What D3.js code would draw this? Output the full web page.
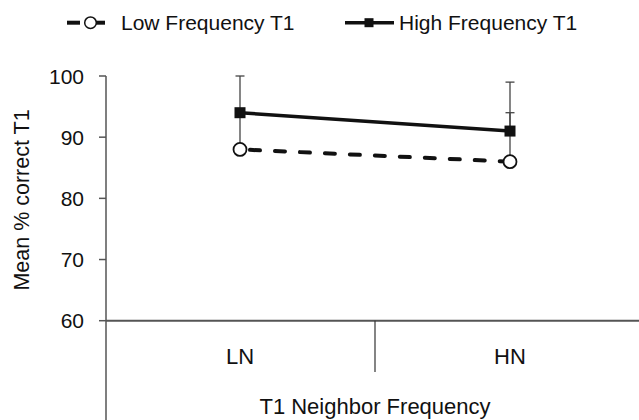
<!DOCTYPE html>
<html>
<head>
<meta charset="utf-8">
<script src="https://cdn.jsdelivr.net/npm/d3@7"></script>
<style>
  body { margin: 0; background: #fff; }
  svg text { font-family: "Liberation Sans", Arial, sans-serif; fill: #111; }
</style>
</head>
<body>
<div id="chart"></div>
<script>
var width  = 639;
var height = 420;

// data
var categories = ["LN", "HN"];
var lowFreq    = [88, 86];
var lowErr     = [6, 8];
var highFreq   = [94, 91];
var highErr    = [6, 8];
var yTicks     = [60, 70, 80, 90, 100];

const axisX   = 106;
const axisY   = 320.7;
const topY    = 76;
const axisCol = "#555";

var svg = d3.select("#chart").append("svg")
    .attr("width", width)
    .attr("height", height);

var x = d3.scaleBand()
    .domain(categories)
    .range([axisX - 1, axisX - 1 + 540])
    .padding(0);

var y = d3.scaleLinear()
    .domain([60, 100])
    .range([axisY, topY]);

function cx(c) { return x(c) + x.bandwidth() / 2; }

// ----------- axes -----------
svg.append("line")
    .attr("x1", axisX).attr("x2", axisX)
    .attr("y1", topY).attr("y2", height)
    .attr("stroke", axisCol).attr("stroke-width", 1.5);

svg.append("line")
    .attr("x1", axisX).attr("x2", width)
    .attr("y1", axisY).attr("y2", axisY)
    .attr("stroke", axisCol).attr("stroke-width", 2);

svg.selectAll(".ytick")
    .data(yTicks)
    .enter()
  .append("line")
    .attr("x1", axisX - 7).attr("x2", axisX)
    .attr("y1", function(d){ return y(d); })
    .attr("y2", function(d){ return y(d); })
    .attr("stroke", axisCol).attr("stroke-width", 1.5);

svg.selectAll(".ylabel")
    .data(yTicks)
    .enter()
  .append("text")
    .attr("x", 84)
    .attr("y", function(d){ return y(d); })
    .attr("dy", "0.36em")
    .attr("text-anchor", "end")
    .style("font-size", "21px")
    .text(function(d){ return d; });

// divider between categories
svg.append("line")
    .attr("x1", x("HN")).attr("x2", x("HN"))
    .attr("y1", axisY).attr("y2", 372)
    .attr("stroke", "#333").attr("stroke-width", 1.2);

svg.selectAll(".xlabel")
    .data(categories)
    .enter()
  .append("text")
    .attr("x", function(d){ return cx(d); })
    .attr("y", 364)
    .attr("text-anchor", "middle")
    .style("font-size", "22px")
    .text(function(d){ return d; });

svg.append("text")
    .attr("x", x("HN"))
    .attr("y", 414)
    .attr("text-anchor", "middle")
    .style("font-size", "22px")
    .text("T1 Neighbor Frequency");

svg.append("text")
    .attr("transform", "translate(29,200) rotate(-90)")
    .attr("text-anchor", "middle")
    .style("font-size", "21.5px")
    .text("Mean % correct T1");

// ----------- error bars (plus only) -----------
function errorBars(vals, errs) {
  var g = svg.append("g");
  categories.forEach(function(c, i){
    var xc = cx(c);
    g.append("line")
        .attr("x1", xc).attr("x2", xc)
        .attr("y1", y(vals[i])).attr("y2", y(vals[i] + errs[i]))
        .attr("stroke", "#444").attr("stroke-width", 1.3);
    g.append("line")
        .attr("x1", xc - 4.5).attr("x2", xc + 4.5)
        .attr("y1", y(vals[i] + errs[i])).attr("y2", y(vals[i] + errs[i]))
        .attr("stroke", "#444").attr("stroke-width", 1.3);
  });
}
errorBars(lowFreq, lowErr);
errorBars(highFreq, highErr);

// ----------- lines -----------
var line = d3.line()
    .x(function(d, i){ return cx(categories[i]); })
    .y(function(d){ return y(d); });

svg.append("path")
    .datum(lowFreq)
    .attr("d", line)
    .attr("fill", "none")
    .attr("stroke", "#111")
    .attr("stroke-width", 4)
    .attr("stroke-linecap", "round")
    .attr("stroke-dasharray", "10 15")
    .attr("stroke-dashoffset", -10);

svg.append("path")
    .datum(highFreq)
    .attr("d", line)
    .attr("fill", "none")
    .attr("stroke", "#111")
    .attr("stroke-width", 3.5);

// ----------- markers -----------
svg.selectAll(".lowPt")
    .data(lowFreq)
    .enter()
  .append("circle")
    .attr("cx", function(d, i){ return cx(categories[i]); })
    .attr("cy", function(d){ return y(d); })
    .attr("r", 6.5)
    .attr("fill", "#fff")
    .attr("stroke", "#111")
    .attr("stroke-width", 1.8);

svg.selectAll(".highPt")
    .data(highFreq)
    .enter()
  .append("rect")
    .attr("x", function(d, i){ return cx(categories[i]) - 5.5; })
    .attr("y", function(d){ return y(d) - 5.5; })
    .attr("width", 11).attr("height", 11)
    .attr("fill", "#111");

// ----------- legend -----------
const legY = 22.7;
var legend = svg.append("g");

legend.append("line")
    .attr("x1", 67).attr("x2", 80).attr("y1", legY).attr("y2", legY)
    .attr("stroke", "#111").attr("stroke-width", 4);
legend.append("line")
    .attr("x1", 96).attr("x2", 105).attr("y1", legY).attr("y2", legY)
    .attr("stroke", "#111").attr("stroke-width", 4);
legend.append("circle")
    .attr("cx", 90.5).attr("cy", legY).attr("r", 5.8)
    .attr("fill", "#fff").attr("stroke", "#111").attr("stroke-width", 1.5);
legend.append("text")
    .attr("x", 121).attr("y", 30)
    .style("font-size", "21px")
    .text("Low Frequency T1");

legend.append("line")
    .attr("x1", 345).attr("x2", 394).attr("y1", legY).attr("y2", legY)
    .attr("stroke", "#111").attr("stroke-width", 3.5);
legend.append("rect")
    .attr("x", 364.5).attr("y", legY - 4.5)
    .attr("width", 9).attr("height", 9)
    .attr("fill", "#111");
legend.append("text")
    .attr("x", 399).attr("y", 30)
    .style("font-size", "21px")
    .text("High Frequency T1");
</script>
</body>
</html>
